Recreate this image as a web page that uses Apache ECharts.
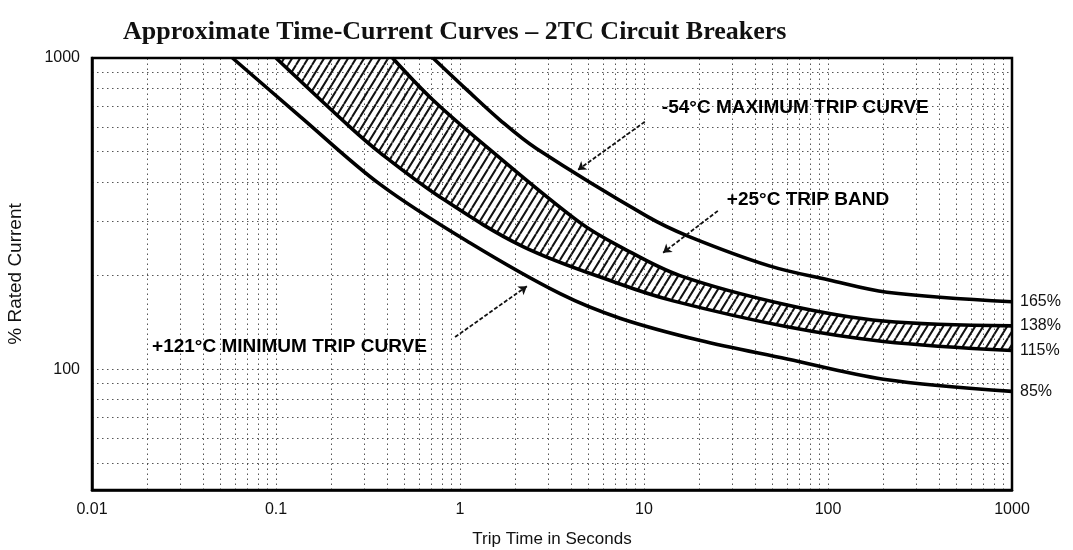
<!DOCTYPE html>
<html>
<head>
<meta charset="utf-8">
<script src="https://cdn.jsdelivr.net/npm/echarts@6/dist/echarts.min.js"></script>
<style>
  html, body { margin: 0; padding: 0; background: #fff; }
  #chart { width: 1073px; height: 550px; }
</style>
</head>
<body>
<div id="chart"></div>
<script>
// Trip curves as [trip time in seconds, % rated current]
const curve165 = [[0.713, 1000], [1.09, 790], [1.65, 632], [2.6, 512], [10.4, 310], [17.6, 267], [48, 215], [100, 194], [209, 177], [1000, 165]];
const curve138 = [[0.43, 1000], [0.713, 733], [1.46, 507], [4.49, 296], [7.41, 248], [15.7, 200], [60, 161], [200, 143], [1000, 138]];
const curve115 = [[0.1, 1000], [0.252, 601], [0.367, 497], [0.778, 358], [2.2, 248], [7.4, 188], [14.4, 166], [60, 137], [200, 123], [1000, 115]];
const curve85 = [[0.058, 1000], [0.135, 650], [0.37, 392], [1.13, 255], [3.5, 175], [7.4, 146], [20, 124], [60, 108], [200, 93], [1000, 85]];
const curveNames = ['165%', '138%', '115%', '85%'];

// Grid rules: decades and the 2..9 subdivisions
const xGridValues = [
  0.02, 0.03, 0.04, 0.05, 0.06, 0.07, 0.08, 0.09, 0.1,
  0.2, 0.3, 0.4, 0.5, 0.6, 0.7, 0.8, 0.9, 1,
  2, 3, 4, 5, 6, 7, 8, 9, 10,
  20, 30, 40, 50, 60, 70, 80, 90, 100,
  200, 300, 400, 500, 600, 700, 800, 900
];
const yGridValues = [50, 60, 70, 80, 90, 100, 200, 300, 400, 500, 600, 700, 800, 900];

// Callouts: text anchor (left end of text), arrow start and arrow tip, in chart units
const calloutTexts = ['-54°C MAXIMUM TRIP CURVE', '+25°C TRIP BAND', '+121°C MINIMUM TRIP CURVE'];
const calloutAnchors = [[12.5, 692], [28.2, 351], [0.0212, 118]];
const calloutArrowFrom = [[10.1, 624], [25.2, 323], [0.94, 127]];
const calloutArrowTo = [[4.37, 437], [12.7, 237], [2.31, 185]];

const chart = echarts.init(document.getElementById('chart'), null, { renderer: 'canvas' });

// Diagonal hatch tile for the +25°C trip band
function hatchTile() {
  const c = document.createElement('canvas');
  c.width = 8; c.height = 13;
  const g = c.getContext('2d');
  g.strokeStyle = '#111';
  g.lineWidth = 2;
  g.beginPath();
  for (const dx of [-8, 0, 8]) { g.moveTo(dx, 13); g.lineTo(dx + 8, 0); }
  g.stroke();
  return c;
}
const hatch = { image: hatchTile(), repeat: 'repeat' };

function decadeLabel(v) {
  const l = Math.log10(v);
  const r = Math.round(l);
  if (Math.abs(l - r) > 1e-6) return '';
  return String(Number(Math.pow(10, r).toFixed(Math.max(0, -r))));
}

const SMOOTH = 0.35;
const sansFont = "'Liberation Sans', Arial, sans-serif";
const axisText = { color: '#111', fontFamily: sansFont, fontSize: 16 };
const nameText = { color: '#111', fontFamily: sansFont, fontSize: 17 };

// Area-only series used to build the hatched band (hatch under 138%, white under 115%)
function fillSeries(name, data, fill, z) {
  return {
    name, type: 'line', data, z, silent: true,
    smooth: SMOOTH, symbol: 'none',
    lineStyle: { width: 0, opacity: 0 },
    areaStyle: { color: fill, opacity: 1, origin: 'start' }
  };
}

function curveSeries(name, data) {
  return {
    name, type: 'line', data, z: 4, silent: true,
    smooth: SMOOTH, symbol: 'none',
    lineStyle: { color: '#000', width: 3.6 },
    endLabel: {
      show: true, formatter: '{a}', distance: 8,
      color: '#111', fontFamily: sansFont, fontSize: 16
    }
  };
}

chart.setOption({
  backgroundColor: '#fff',
  animation: false,
  title: {
    text: 'Approximate Time-Current Curves – 2TC Circuit Breakers',
    left: 118, top: 14,
    textStyle: { fontFamily: "'Liberation Serif', 'DejaVu Serif', serif", fontWeight: 'bold', fontSize: 26, color: '#111' }
  },
  grid: {
    left: 92, right: 61, top: 58, bottom: 60, z: 6,
    containLabel: false, outerBoundsMode: 'none',
    show: true, borderColor: '#000', borderWidth: 2.5, backgroundColor: 'transparent'
  },
  xAxis: {
    type: 'log', logBase: 10, min: 0.01, max: 1000, z: 6,
    name: 'Trip Time in Seconds', nameLocation: 'middle', nameGap: 41,
    nameTextStyle: nameText,
    axisLine: { show: true, lineStyle: { color: '#000', width: 2.5 } },
    axisTick: { show: false },
    splitLine: { show: false },
    axisLabel: { ...axisText, margin: 12, formatter: decadeLabel, showMinLabel: true, showMaxLabel: true }
  },
  yAxis: {
    type: 'log', logBase: 10, min: 41, max: 1000, z: 6,
    name: '% Rated Current', nameLocation: 'middle', nameGap: 67, nameRotate: 90,
    nameTextStyle: { ...nameText, fontSize: 19 },
    axisLine: { show: true, lineStyle: { color: '#000', width: 2.5 } },
    axisTick: { show: false },
    splitLine: { show: false },
    axisLabel: { ...axisText, margin: 12, formatter: decadeLabel, showMinLabel: true, showMaxLabel: true }
  },
  series: [
    // hatched band: top strip along the upper border, area under 138%, then white under 115%
    fillSeries('band top', [[curve115[0][0], curve115[0][1]], [curve138[0][0], curve138[0][1]]], hatch, 1),
    fillSeries('band upper', curve138, hatch, 1),
    fillSeries('band lower', curve115, '#fff', 2),
    {
      // dotted grid rules
      name: 'grid', type: 'line', data: [], silent: true, z: 3,
      markLine: {
        silent: true, z: 3, symbol: ['none', 'none'], animation: false,
        label: { show: false },
        lineStyle: { color: '#444', width: 1, type: [1.5, 3.5], opacity: 0.9 },
        emphasis: { disabled: true },
        data: xGridValues.map(v => ({ xAxis: v })).concat(yGridValues.map(v => ({ yAxis: v })))
      }
    },
    curveSeries(curveNames[0], curve165),
    curveSeries(curveNames[1], curve138),
    curveSeries(curveNames[2], curve115),
    curveSeries(curveNames[3], curve85),
    {
      name: 'callouts', type: 'scatter', z: 5, silent: true,
      symbolSize: 0,
      itemStyle: { opacity: 1 },
      data: calloutAnchors.map((p, i) => ({ value: p, name: calloutTexts[i] })),
      label: {
        show: true, position: 'right', distance: 0, formatter: '{b}',
        color: '#000', fontFamily: sansFont, fontWeight: 'bold', fontSize: 19
      },
      markLine: {
        silent: true, z: 5, animation: false,
        symbol: ['none', 'arrow'], symbolSize: 8,
        label: { show: false },
        lineStyle: { color: '#111', width: 1.8, type: [4, 2] },
        data: calloutArrowFrom.map((p, i) => [{ coord: p }, { coord: calloutArrowTo[i] }])
      }
    }
  ]
});
</script>
</body>
</html>
